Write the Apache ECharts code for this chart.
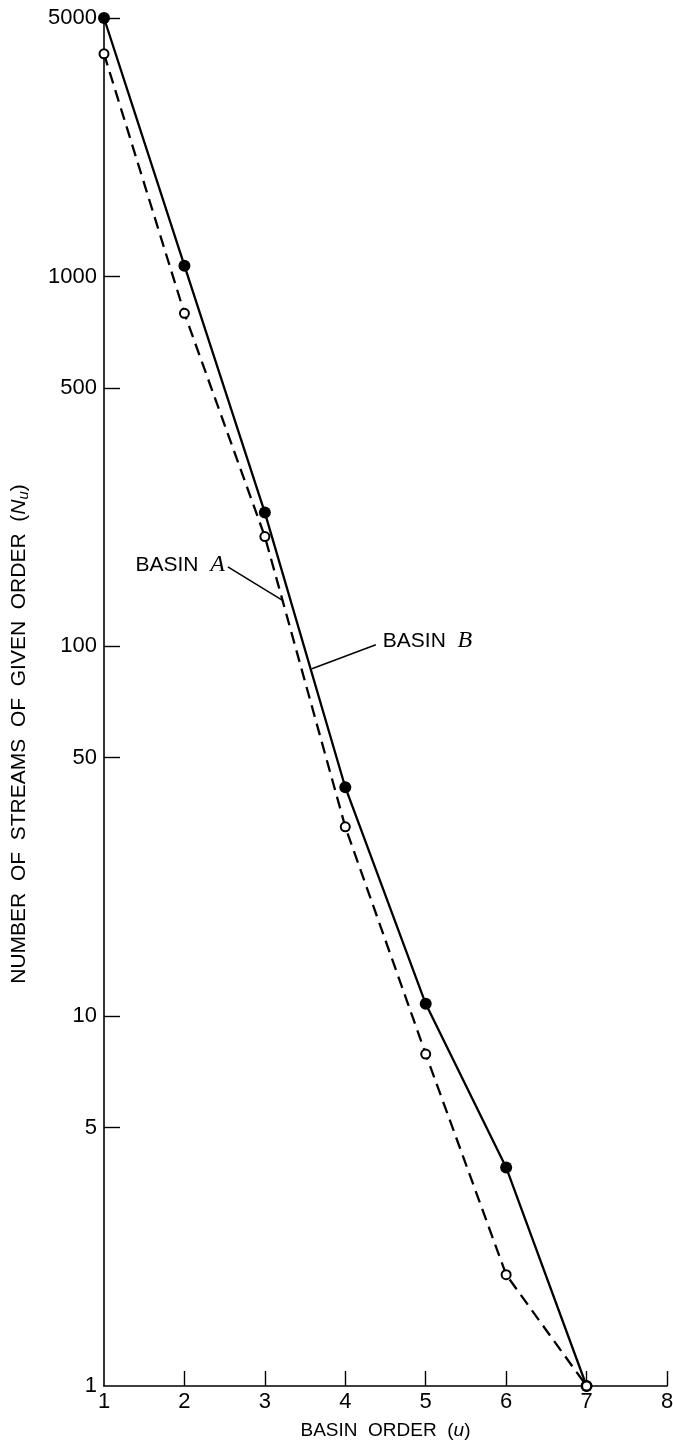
<!DOCTYPE html>
<html>
<head>
<meta charset="utf-8">
<script src="https://cdn.jsdelivr.net/npm/echarts@6/dist/echarts.min.js"></script>
<style>
html,body{margin:0;padding:0;background:#fff;}
#c{width:673px;height:1447px;}
</style>
</head>
<body>
<div id="c"></div>
<script>
// ---- data ----
const basinOrder = [1, 2, 3, 4, 5, 6, 7];
const basinA = [4000, 795, 198, 32.5, 7.9, 2.0, 1];
const basinB = [5000, 1070, 230, 41.6, 10.8, 3.9, 1];
const yTickValues = [5, 10, 50, 100, 500, 1000, 5000];
const yLabelValues = [1, 5, 10, 50, 100, 500, 1000, 5000];
const xTickValues = [2, 3, 4, 5, 6, 7, 8];
// annotation anchors in data space: [leader start, leader end]
const labelA = {from: [2.54, 164], to: [3.225, 133]};
const labelB = {from: [4.38, 101], to: [3.585, 87]};

const FONT = '"Liberation Sans", Arial, Helvetica, sans-serif';
const chart = echarts.init(document.getElementById('c'), null, {renderer: 'canvas'});

const option = {
  backgroundColor: '#fff',
  animation: false,
  grid: {left: 104, right: 6, top: 18, bottom: 61, containLabel: false, outerBoundsMode: 'none'},
  xAxis: {
    type: 'value', min: 1, max: 8, interval: 1,
    name: 'BASIN  ORDER  ({i|u})',
    nameLocation: 'middle', nameGap: 35,
    nameTextStyle: {color: '#000', fontSize: 19, fontFamily: FONT,
      rich: {i: {fontStyle: 'italic', fontSize: 19, fontFamily: FONT, color: '#000'}}},
    axisLine: {show: true, lineStyle: {color: '#000', width: 1.6}},
    axisTick: {show: true, inside: true, length: 15, customValues: xTickValues, lineStyle: {color: '#000', width: 1.4}},
    axisLabel: {color: '#000', fontSize: 22, fontFamily: FONT, margin: 5},
    splitLine: {show: false}
  },
  yAxis: {
    type: 'log', logBase: 10, min: 1, max: 5000,
    name: 'NUMBER  OF  STREAMS  OF  GIVEN  ORDER  ({i|N}{s|u})',
    nameLocation: 'middle', nameGap: 73, nameRotate: 90,
    nameTextStyle: {color: '#000', fontSize: 21, fontFamily: FONT, padding: [0, 64, 0, 0],
      rich: {i: {fontStyle: 'italic', fontSize: 21, fontFamily: FONT, color: '#000'},
             s: {fontStyle: 'italic', fontSize: 15, fontFamily: FONT, color: '#000', verticalAlign: 'bottom', padding: [9, 0, 0, 0]}}},
    axisLine: {show: true, lineStyle: {color: '#000', width: 1.6}},
    axisTick: {show: true, inside: true, length: 16, customValues: yTickValues, lineStyle: {color: '#000', width: 1.4}},
    axisLabel: {color: '#000', fontSize: 22, fontFamily: FONT, margin: 7, customValues: yLabelValues,
      formatter: v => String(Math.round(v))},
    splitLine: {show: false}
  },
  series: [
    {
      name: 'BASIN B', type: 'line',
      data: basinOrder.map((u, i) => [u, basinB[i]]),
      symbol: 'circle', symbolSize: 12,
      lineStyle: {color: '#000', width: 2.3},
      itemStyle: {color: '#000'},
      z: 2
    },
    {
      name: 'BASIN A', type: 'line',
      data: basinOrder.map((u, i) => [u, basinA[i]]),
      symbol: 'circle', symbolSize: 9,
      lineStyle: {color: '#000', width: 2.3, type: [12, 7]},
      itemStyle: {color: '#fff', borderColor: '#000', borderWidth: 2},
      z: 3
    }
  ]
};
chart.setOption(option);

function px(p) { return chart.convertToPixel({gridIndex: 0}, p); }
const aF = px(labelA.from), aT = px(labelA.to), bF = px(labelB.from), bT = px(labelB.to);
const SERIF = '"Liberation Serif", "Times New Roman", serif';
chart.setOption({
  graphic: [
    {type: 'line', shape: {x1: aF[0], y1: aF[1], x2: aT[0], y2: aT[1]}, style: {stroke: '#000', lineWidth: 1.5}},
    {type: 'line', shape: {x1: bF[0], y1: bF[1], x2: bT[0], y2: bT[1]}, style: {stroke: '#000', lineWidth: 1.5}},
    {type: 'text', x: aF[0] - 3, y: aF[1] - 2,
      style: {text: 'BASIN  {i|A}', fill: '#000', font: '21px ' + FONT, textAlign: 'right', textVerticalAlign: 'middle',
        rich: {i: {fontStyle: 'italic', fontFamily: SERIF, fontSize: 24, fill: '#000'}}}},
    {type: 'text', x: bF[0] + 7, y: bF[1] - 4,
      style: {text: 'BASIN  {i|B}', fill: '#000', font: '21px ' + FONT, textAlign: 'left', textVerticalAlign: 'middle',
        rich: {i: {fontStyle: 'italic', fontFamily: SERIF, fontSize: 24, fill: '#000'}}}}
  ]
});
</script>
</body>
</html>
